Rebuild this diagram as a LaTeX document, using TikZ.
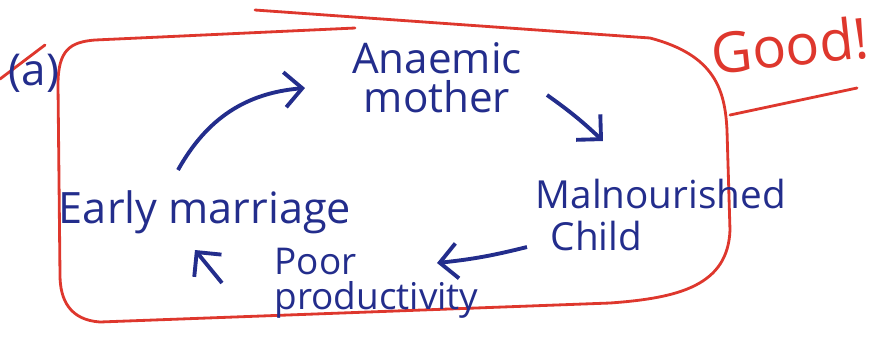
\documentclass[tikz,border=0pt]{standalone}
\usepackage{fontspec}
\setmainfont{Open Sans}
\usetikzlibrary{arrows.meta}
\definecolor{ink}{RGB}{35,45,140}
\definecolor{redink}{RGB}{222,55,45}
\tikzset{
  txt/.style={text=ink, inner sep=0pt, font=\fontsize{12}{12}\selectfont},
  arr/.style={draw=ink, line width=1.1pt, -{Straight Barb[length=5pt,width=10pt]}},
  redline/.style={draw=redink, line width=0.8pt, line cap=round}
}
\begin{document}
\begin{tikzpicture}
\useasboundingbox (0,0) rectangle (8.79,3.45);
% red enclosing outline
\draw[redline] (2.55,3.35) -- (6.50,3.07)
  .. controls (7.15,2.90) and (7.25,2.55) .. (7.27,2.15)
  -- (7.30,1.15)
  .. controls (7.28,0.60) and (6.80,0.47) .. (6.10,0.42)
  -- (1.00,0.23)
  .. controls (0.70,0.25) and (0.60,0.45) .. (0.60,0.70)
  -- (0.58,2.60)
  .. controls (0.58,2.95) and (0.70,3.03) .. (0.95,3.05)
  -- (3.55,3.17);
\draw[redline] (0.00,2.66) -- (0.45,3.00);
\draw[redline] (7.30,2.30) -- (8.57,2.57);
% texts
\node[txt, font=\fontsize{12.5}{12}\selectfont] (lbl) at (0.34,2.72) {(a)};
\node[text=redink, inner sep=0pt, font=\fontsize{16}{16}\selectfont, rotate=6] (good) at (7.90,3.00) {Good!};
\node[txt, align=center, font=\fontsize{12}{11}\selectfont] (anaemic) at (4.37,2.67) {Anaemic\\mother};
\node[txt, align=left, anchor=west, font=\fontsize{11}{12}\selectfont] (mal) at (5.35,1.30) {Malnourished\\\hspace{0.15cm}Child};
\node[txt, font=\fontsize{12.3}{12}\selectfont] (early) at (2.05,1.33) {Early marriage};
\node[txt, align=left, anchor=west, font=\fontsize{10.5}{10}\selectfont] (poor) at (2.74,0.62) {Poor\\productivity};
% arrows
\draw[arr] ([shift={(-0.27,0.42)}]early.center) to[bend left=28] ([shift={(-1.32,-0.10)}]anaemic.center);
\draw[arr] ([shift={(1.10,-0.17)}]anaemic.center) to[bend left=4] ([shift={(0.68,0.74)}]mal.west);
\draw[arr] ([shift={(-0.08,-0.32)}]mal.west) to[bend left=4] ([shift={(1.63,0.20)}]poor.west);
\draw[arr] ([shift={(-0.52,0.00)}]poor.west) -- ([shift={(-0.10,-0.38)}]early.center);
\end{tikzpicture}
\end{document}
